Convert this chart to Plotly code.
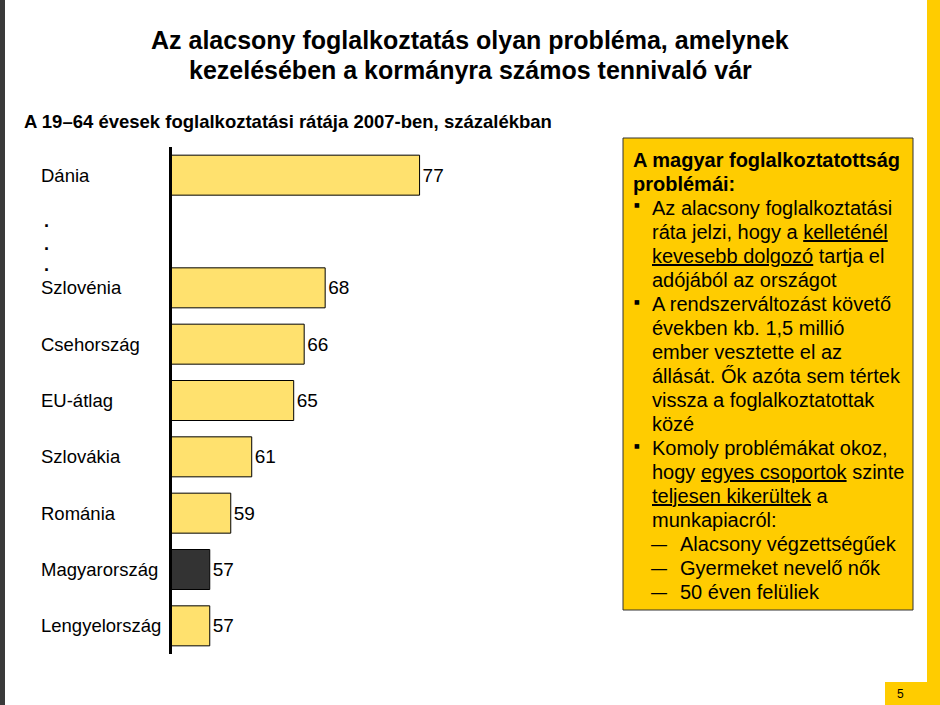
import plotly.graph_objects as go

# ---- data ----
countries = ["Dánia", "gap", "Szlovénia", "Csehország", "EU-átlag", "Szlovákia",
             "Románia", "Magyarország", "Lengyelország"]
rates = [77, None, 68, 66, 65, 61, 59, 57, 57]
highlight = "Magyarország"

title_lines = ["Az alacsony foglalkoztatás olyan probléma, amelynek",
               "kezelésében a kormányra számos tennivaló vár"]
subtitle = "A 19–64 évesek foglalkoztatási rátája 2007-ben, százalékban"

box_lines = [
    ("head", "<b>A magyar foglalkoztatottság</b>"),
    ("head", "<b>problémái:</b>"),
    ("bullet", "Az alacsony foglalkoztatási"),
    ("cont", "ráta jelzi, hogy a <u>kelleténél</u>"),
    ("cont", "<u>kevesebb dolgozó</u> tartja el"),
    ("cont", "adójából az országot"),
    ("bullet", "A rendszerváltozást követő"),
    ("cont", "években kb. 1,5 millió"),
    ("cont", "ember vesztette el az"),
    ("cont", "állását. Ők azóta sem tértek"),
    ("cont", "vissza a foglalkoztatottak"),
    ("cont", "közé"),
    ("bullet", "Komoly problémákat okoz,"),
    ("cont", "hogy <u>egyes csoportok</u> szinte"),
    ("cont", "<u>teljesen kikerültek</u> a"),
    ("cont", "munkapiacról:"),
    ("dash", "Alacsony végzettségűek"),
    ("dash", "Gyermeket nevelő nők"),
    ("dash", "50 éven felüliek"),
]
page_number = "5"

W, H = 940, 705
FONT = "Liberation Sans, Arial, sans-serif"


def px(x):
    return x / W


def py(y):
    return 1 - y / H


YELLOW_BAR = "#FFE16E"
DARK_BAR = "#333333"
colors = [DARK_BAR if c == highlight else YELLOW_BAR for c in countries]
texts = ["" if v is None else str(v) for v in rates]

fig = go.Figure()
fig.add_trace(go.Bar(
    y=countries, x=rates, orientation="h",
    marker=dict(color=colors, line=dict(color="black", width=1)),
    text=texts, textposition="outside", cliponaxis=False,
    textfont=dict(family=FONT, size=19, color="black"),
    hoverinfo="skip",
))

fig.update_layout(
    width=W, height=H, autosize=False,
    margin=dict(l=0, r=0, t=0, b=0),
    paper_bgcolor="white", plot_bgcolor="white",
    showlegend=False, bargap=0.29,
    font=dict(family=FONT, color="black"),
    xaxis=dict(domain=[px(172), px(600)], range=[53.4, 94.2], visible=False,
               showgrid=False, zeroline=False),
    yaxis=dict(domain=[py(654), py(147)], type="category",
               categoryorder="array", categoryarray=countries,
               range=[8.5, -0.5], showticklabels=False, showgrid=False,
               zeroline=False, showline=True, linewidth=3, linecolor="black",
               ticks=""),
)

shapes = []
annotations = []

# left dark border
shapes.append(dict(type="rect", xref="paper", yref="paper", x0=0, x1=px(5),
                   y0=0, y1=1, fillcolor="#3a3a3a", line=dict(width=0), layer="below"))
# right stripe
shapes.append(dict(type="rect", xref="paper", yref="paper", x0=px(927), x1=1,
                   y0=py(682), y1=1, fillcolor="#FFCC00", line=dict(width=0), layer="below"))
# page number box
shapes.append(dict(type="rect", xref="paper", yref="paper", x0=px(885), x1=1,
                   y0=0, y1=py(682), fillcolor="#FFCC00", line=dict(width=0), layer="below"))
annotations.append(dict(xref="paper", yref="paper", x=px(900), y=py(694),
                        text=page_number, showarrow=False, xanchor="center",
                        yanchor="middle", font=dict(family=FONT, size=12, color="black")))

# text box
shapes.append(dict(type="rect", xref="paper", yref="paper", x0=px(623), x1=px(913),
                   y0=py(610), y1=py(138), fillcolor="#FFCC00",
                   line=dict(color="#333333", width=1), layer="below"))

# titles
for i, line in enumerate(title_lines):
    annotations.append(dict(xref="paper", yref="paper", x=px(470), y=py(40 + 30 * i),
                            text="<b>" + line + "</b>", showarrow=False,
                            xanchor="center", yanchor="middle",
                            font=dict(family=FONT, size=25, color="black")))
annotations.append(dict(xref="paper", yref="paper", x=px(22), y=py(121),
                        text="<b>" + subtitle + "</b>", showarrow=False,
                        xanchor="left", yanchor="middle",
                        font=dict(family=FONT, size=18.5, color="black")))

# category labels
for c in countries:
    if c == "gap":
        continue
    annotations.append(dict(xref="paper", yref="y", x=px(39), y=c, text=c,
                            showarrow=False, xanchor="left", yanchor="middle",
                            font=dict(family=FONT, size=18.5, color="black")))
# ellipsis dots in gap slot
for yy in (224, 247, 268):
    annotations.append(dict(xref="paper", yref="paper", x=px(46), y=py(yy - 3),
                            text="<b>.</b>", showarrow=False, xanchor="center",
                            yanchor="middle", font=dict(family=FONT, size=18, color="black")))

# box text
for i, (kind, line) in enumerate(box_lines):
    yy = py(160 + 24 * i)
    if kind == "head":
        annotations.append(dict(xref="paper", yref="paper", x=px(631), y=yy, text=line,
                                showarrow=False, xanchor="left", yanchor="middle",
                                font=dict(family=FONT, size=20, color="black")))
    elif kind in ("bullet", "cont"):
        if kind == "bullet":
            annotations.append(dict(xref="paper", yref="paper", x=px(637), y=py(160 + 24 * i - 3),
                                    text="■", showarrow=False, xanchor="center",
                                    yanchor="middle",
                                    font=dict(family="DejaVu Sans", size=6, color="black")))
        annotations.append(dict(xref="paper", yref="paper", x=px(650), y=yy, text=line,
                                showarrow=False, xanchor="left", yanchor="middle",
                                font=dict(family=FONT, size=20, color="black")))
    else:
        annotations.append(dict(xref="paper", yref="paper", x=px(649), y=yy, text="—",
                                showarrow=False, xanchor="left", yanchor="middle",
                                font=dict(family=FONT, size=16, color="black")))
        annotations.append(dict(xref="paper", yref="paper", x=px(678), y=yy, text=line,
                                showarrow=False, xanchor="left", yanchor="middle",
                                font=dict(family=FONT, size=20, color="black")))

fig.update_layout(shapes=shapes, annotations=annotations)
fig.write_html("out.html", include_plotlyjs=True, full_html=True,
               config={"displayModeBar": False, "staticPlot": True},
               post_script="document.body.style.margin='0px';document.body.style.overflow='hidden';")
